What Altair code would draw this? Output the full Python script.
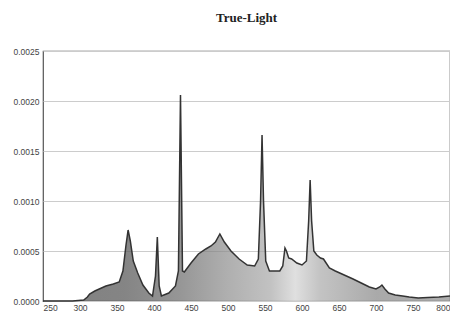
import altair as alt
import pandas as pd

wavelength = [250, 290, 305, 310, 313, 320, 335, 345, 353, 358, 362, 365, 368, 372, 378, 385, 393, 398,
              402, 404.5, 407, 410, 420, 429, 433, 435.8, 438.5, 441, 450, 460, 470, 477, 483, 489, 495,
              504, 515, 526, 536, 541, 544, 546, 548, 551, 556, 565, 570, 574, 577, 579, 582, 586, 593,
              600, 606, 609, 611, 613, 616, 620, 625, 629, 637, 645, 651, 660, 669, 680, 691, 700, 705,
              708, 712, 717, 726, 736, 745, 757, 770, 785, 800]
intensity_e4 = [0, 0, 0.1, 0.4, 0.7, 1.0, 1.5, 1.7, 1.9, 3.0, 5.5, 7.1, 6.0, 4.0, 2.8, 1.6, 0.8, 0.5,
                2.5, 6.4, 1.5, 0.5, 0.8, 1.5, 3.0, 20.6, 3.0, 2.9, 3.8, 4.7, 5.2, 5.5, 5.9, 6.7, 5.9,
                5.0, 4.2, 3.6, 3.5, 4.2, 10.0, 16.6, 10.0, 4.0, 3.0, 3.0, 3.0, 3.5, 5.3, 5.0, 4.3, 4.2, 3.8,
                3.6, 4.0, 8.0, 12.1, 8.0, 5.0, 4.6, 4.3, 4.2, 3.3, 3.0, 2.8, 2.5, 2.2, 1.8, 1.4, 1.2, 1.4,
                1.6, 1.2, 0.8, 0.6, 0.5, 0.4, 0.3, 0.35, 0.4, 0.5]
x_ticks = [250, 300, 350, 400, 450, 500, 550, 600, 650, 700, 750, 800]
y_ticks = [0.0, 0.0005, 0.0010, 0.0015, 0.0020, 0.0025]

df = pd.DataFrame({"wl": wavelength, "val": [v * 1e-4 for v in intensity_e4]})

grad = alt.Gradient(
    gradient="linear", x1=0, x2=1, y1=0, y2=0,
    stops=[
        alt.GradientStop(offset=0.0, color="#4a4a4a"),
        alt.GradientStop(offset=0.2, color="#505050"),
        alt.GradientStop(offset=0.34, color="#6a6a6a"),
        alt.GradientStop(offset=0.45, color="#8c8c8c"),
        alt.GradientStop(offset=0.56, color="#a8a8a8"),
        alt.GradientStop(offset=0.62, color="#d2d2d2"),
        alt.GradientStop(offset=0.68, color="#aaaaaa"),
        alt.GradientStop(offset=0.82, color="#858585"),
        alt.GradientStop(offset=1.0, color="#8a8a8a"),
    ],
)

chart = alt.Chart(df).mark_area(
    line={"color": "#333333", "strokeWidth": 1.5},
    color=grad,
    interpolate="linear",
).encode(
    x=alt.X("wl:Q", scale=alt.Scale(domain=[250, 800], nice=False),
            axis=alt.Axis(values=x_ticks, title=None, grid=False, labelFontSize=8.5,
                          labelColor="#444", tickSize=0, labelPadding=2, domain=False,
                          labelFont="Liberation Sans")),
    y=alt.Y("val:Q", scale=alt.Scale(domain=[0, 0.0025], nice=False),
            axis=alt.Axis(values=y_ticks, format=".4f", title=None, grid=True,
                          gridColor="#cccccc", gridWidth=1, labelFontSize=8.5,
                          labelColor="#444", tickSize=0, labelPadding=4, domain=False,
                          labelFont="Liberation Sans")),
).properties(
    width=407, height=250,
    title=alt.TitleParams("True-Light", font="Liberation Serif", fontSize=13,
                          fontWeight="bold", color="#222", anchor="middle", offset=22),
    autosize=alt.AutoSizeParams(type="none"),
    padding={"left": 35, "top": 43, "right": 0, "bottom": 12},
).configure_view(stroke="#555555", strokeWidth=1.2)

chart.save("out.html", embed_options={"renderer": "svg", "actions": False})
